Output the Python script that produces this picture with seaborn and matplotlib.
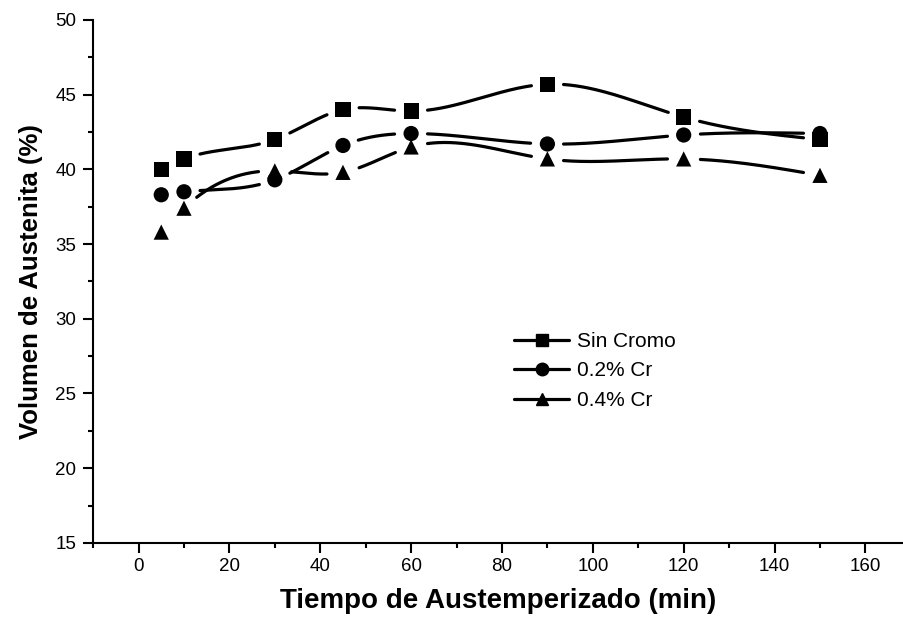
import numpy as np
import pandas as pd
import seaborn as sns
import matplotlib.pyplot as plt
from matplotlib.lines import Line2D
from matplotlib.ticker import MultipleLocator

# data
tiempo = [5, 10, 30, 45, 60, 90, 120, 150]
sin_cromo = [40.0, 40.7, 42.0, 44.0, 43.9, 45.7, 43.5, 42.0]
cr_02 = [38.3, 38.5, 39.3, 41.6, 42.4, 41.7, 42.3, 42.4]
cr_04 = [35.8, 37.4, 39.9, 39.8, 41.5, 40.7, 40.7, 39.6]
series = ['Sin Cromo', '0.2% Cr', '0.4% Cr']
marks = {'Sin Cromo': 's', '0.2% Cr': 'o', '0.4% Cr': '^'}

df = pd.DataFrame({
    'tiempo': tiempo * 3,
    'volumen': sin_cromo + cr_02 + cr_04,
    'serie': [s for s in series for _ in tiempo],
})

sns.set_style('ticks', {'text.color': 'black', 'axes.labelcolor': 'black',
                        'axes.edgecolor': 'black'})
plt.rcParams['font.family'] = ['Liberation Sans', 'DejaVu Sans']


def natural_spline(x, y, xs):
    # natural cubic spline, only used to draw the smooth connecting line
    x = np.asarray(x, float)
    y = np.asarray(y, float)
    n = len(x)
    h = np.diff(x)
    A = np.zeros((n, n))
    b = np.zeros(n)
    A[0, 0] = A[-1, -1] = 1
    for i in range(1, n - 1):
        A[i, i - 1] = h[i - 1]
        A[i, i] = 2 * (h[i - 1] + h[i])
        A[i, i + 1] = h[i]
        b[i] = 3 * ((y[i + 1] - y[i]) / h[i] - (y[i] - y[i - 1]) / h[i - 1])
    c = np.linalg.solve(A, b)
    out = np.empty_like(xs)
    for k, xv in enumerate(xs):
        i = min(max(np.searchsorted(x, xv) - 1, 0), n - 2)
        dx = xv - x[i]
        bi = (y[i + 1] - y[i]) / h[i] - h[i] * (2 * c[i] + c[i + 1]) / 3
        di = (c[i + 1] - c[i]) / (3 * h[i])
        out[k] = y[i] + bi * dx + c[i] * dx ** 2 + di * dx ** 3
    return out


fig = plt.figure(figsize=(9.04, 6.24), dpi=100)
ax = fig.add_axes([0.103, 0.130, 0.897, 0.838])
ax.set_xlim(-10, 168.5)
ax.set_ylim(15, 50)

# markers
sns.scatterplot(data=df, x='tiempo', y='volumen', style='serie',
                markers=marks, color='black', s=120, edgecolor='none',
                legend=False, ax=ax, zorder=3)

# smooth lines, with a gap round each of the series' own markers
gap = 16
for s in series:
    sub = df[df['serie'] == s]
    xs = np.linspace(sub['tiempo'].min(), sub['tiempo'].max(), 800)
    ys = natural_spline(sub['tiempo'], sub['volumen'], xs)
    pts = ax.transData.transform(np.column_stack([xs, ys]))
    mk = ax.transData.transform(sub[['tiempo', 'volumen']].values)
    d = np.min(np.hypot(pts[:, None, 0] - mk[None, :, 0],
                        pts[:, None, 1] - mk[None, :, 1]), axis=1)
    ys = np.where(d < gap, np.nan, ys)
    ax.plot(xs, ys, color='black', lw=2.3, solid_capstyle='round', zorder=2)

ax.xaxis.set_major_locator(MultipleLocator(20))
ax.xaxis.set_minor_locator(MultipleLocator(10))
ax.yaxis.set_major_locator(MultipleLocator(5))
ax.yaxis.set_minor_locator(MultipleLocator(2.5))
ax.tick_params(which='major', direction='out', length=7, width=1.5,
               labelsize=13.5, colors='black')
ax.tick_params(axis='x', which='major', pad=4)
ax.tick_params(axis='y', which='major', pad=5)
ax.tick_params(which='minor', direction='out', length=3.6, width=1.5,
               colors='black')
for side in ['left', 'bottom']:
    ax.spines[side].set_linewidth(1.5)
sns.despine(ax=ax)

ax.set_xlabel('Tiempo de Austemperizado (min)', fontsize=20,
              fontweight='bold', labelpad=9, color='black')
ax.set_ylabel('Volumen de Austenita (%)', fontsize=18.5,
              fontweight='bold', labelpad=9, color='black')

handles = [Line2D([], [], color='black', lw=2.3, marker=marks[s],
                  markersize=9, label=s) for s in series]
leg = ax.legend(handles=handles, loc='upper left',
                bbox_to_anchor=(0.569, 0.468),
                bbox_transform=fig.transFigure, frameon=False, fontsize=15,
                handlelength=2.64, handletextpad=0.35, labelspacing=0.5,
                borderpad=0, borderaxespad=0)
for t in leg.get_texts():
    t.set_color('black')

fig.savefig('out.png', dpi=100)
